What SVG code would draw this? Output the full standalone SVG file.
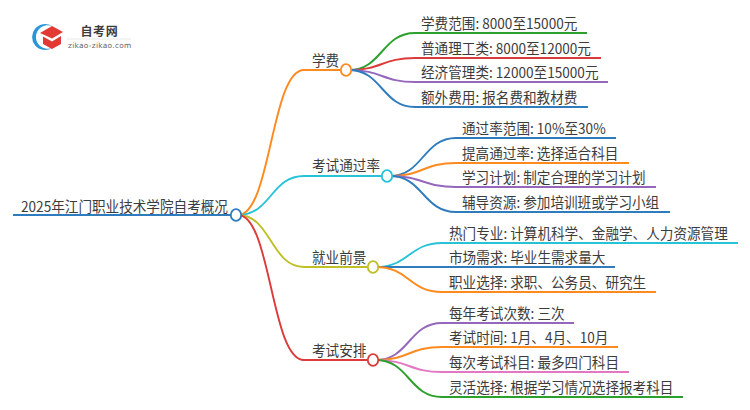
<svg xmlns="http://www.w3.org/2000/svg" width="750" height="410" viewBox="0 0 750 410">
<style>
text{font-family:"Noto Sans CJK SC","Noto Sans",sans-serif;font-size:14.4px;fill:#3c3c3c;transform-box:fill-box;transform-origin:left center;transform:scaleX(.945)}
.c{fill:none;stroke-width:1.9}
.n{fill:#fff;stroke-width:1.8}
.logo-name{font-size:12px;font-weight:700;letter-spacing:.6px;transform:none}
.logo-url{font-size:7.4px;letter-spacing:.3px;fill:#666;font-family:"DejaVu Sans",sans-serif;transform:none}
</style>
<rect width="750" height="410" fill="#fff"/>
<g id="logo">
<path d="M52 26A13 13 0 1 0 52 48A11.800 11.800 0 1 1 52 26Z" fill="#2a96d8"/>
<path d="M40 33L52 26L63 32L52 38.500Z" fill="#e23a33"/>
<path d="M43 36.500L52 41.500L61 36V44L52 49L43 44Z" fill="#e23a33"/>
<text class="logo-name" x="80.500" y="36">自考网</text>
<path d="M67 39H131" stroke="#e8e8e8" fill="none"/>
<text class="logo-url" x="68" y="48">zikao-zikao.com</text>
</g>
<g id="connectors">
<path class="c" stroke="#2e7cbd" d="M13 215H231"/>
<path class="c" stroke="#ff8a1f" d="M238 215C271 215 271 70 304 70H340"/>
<path class="c" stroke="#26c2d8" d="M238 215C271 215 271 176 304 176H381"/>
<path class="c" stroke="#bfbf26" d="M238 215C271 215 271 267 304 267H367"/>
<path class="c" stroke="#dc3b3b" d="M238 215C271 215 271 360 304 360H367"/>
<path class="c" stroke="#2ca02c" d="M349 70C382 70 382 33 415 33H587"/>
<path class="c" stroke="#dc3b3b" d="M349 70C382 70 382 58 415 58H601"/>
<path class="c" stroke="#9467bd" d="M349 70C382 70 382 82 415 82H608"/>
<path class="c" stroke="#2e7cbd" d="M349 70C382 70 382 107 415 107H588"/>
<path class="c" stroke="#2e7cbd" d="M390 176C423 176 423 138 456 138H616"/>
<path class="c" stroke="#ff8a1f" d="M390 176C423 176 423 163 456 163H629"/>
<path class="c" stroke="#9467bd" d="M390 176C423 176 423 187 456 187H656"/>
<path class="c" stroke="#2e7cbd" d="M390 176C423 176 423 212 456 212H670"/>
<path class="c" stroke="#26c2d8" d="M376 267C409 267 409 243 442 243H738"/>
<path class="c" stroke="#2e7cbd" d="M376 267H615"/>
<path class="c" stroke="#ff8a1f" d="M376 267C409 267 409 292 442 292H656"/>
<path class="c" stroke="#9467bd" d="M376 360C409 360 409 323 442 323H574"/>
<path class="c" stroke="#ff8a1f" d="M376 360C409 360 409 347 442 347H618"/>
<path class="c" stroke="#e377c2" d="M376 360C409 360 409 372 442 372H629"/>
<path class="c" stroke="#2ca02c" d="M376 360C409 360 409 397 442 397H683"/>
</g>
<g id="root"><text x="21" y="212">2025年江门职业技术学院自考概况</text><ellipse class="n" cx="236" cy="215" rx="5.200" ry="5.900" stroke="#2e7cbd"/></g>
<g id="b1"><text x="312" y="66.500">学费</text><ellipse class="n" cx="346" cy="70" rx="5.200" ry="5.900" stroke="#ff8a1f"/></g>
<g id="b2"><text x="312" y="171.500">考试通过率</text><ellipse class="n" cx="387" cy="176" rx="5.200" ry="5.900" stroke="#26c2d8"/></g>
<g id="b3"><text x="312" y="263.500">就业前景</text><ellipse class="n" cx="373" cy="267" rx="5.200" ry="5.900" stroke="#bfbf26"/></g>
<g id="b4"><text x="312" y="356.500">考试安排</text><ellipse class="n" cx="373" cy="360" rx="5.200" ry="5.900" stroke="#dc3b3b"/></g>
<g id="l11"><text x="421" y="29.500">学费范围: 8000至15000元</text></g>
<g id="l12"><text x="421" y="54.500">普通理工类: 8000至12000元</text></g>
<g id="l13"><text x="421" y="78.500">经济管理类: 12000至15000元</text></g>
<g id="l14"><text x="421" y="103.500">额外费用: 报名费和教材费</text></g>
<g id="l21"><text x="462" y="134.500">通过率范围: 10%至30%</text></g>
<g id="l22"><text x="462" y="159.500">提高通过率: 选择适合科目</text></g>
<g id="l23"><text x="462" y="183.500">学习计划: 制定合理的学习计划</text></g>
<g id="l24"><text x="462" y="208.500">辅导资源: 参加培训班或学习小组</text></g>
<g id="l31"><text x="449" y="239.500">热门专业: 计算机科学、金融学、人力资源管理</text></g>
<g id="l32"><text x="449" y="263.500">市场需求: 毕业生需求量大</text></g>
<g id="l33"><text x="449" y="288.500">职业选择: 求职、公务员、研究生</text></g>
<g id="l41"><text x="449" y="319.500">每年考试次数: 三次</text></g>
<g id="l42"><text x="449" y="343.500">考试时间: 1月、4月、10月</text></g>
<g id="l43"><text x="449" y="368.500">每次考试科目: 最多四门科目</text></g>
<g id="l44"><text x="449" y="393.500">灵活选择: 根据学习情况选择报考科目</text></g>
</svg>
